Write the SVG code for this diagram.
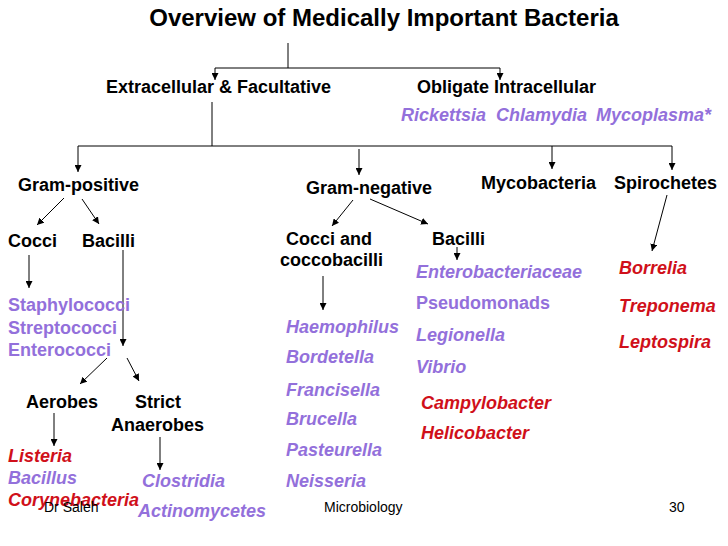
<svg xmlns="http://www.w3.org/2000/svg" width="728" height="546" viewBox="0 0 728 546">
<defs>
<marker id="ah" viewBox="0 0 8 8" refX="8" refY="4" markerWidth="7" markerHeight="7" markerUnits="userSpaceOnUse" orient="auto">
<path d="M0,0 L8,4 L0,8 Z" fill="#000"/>
</marker>
</defs>
<style>
text{font-family:"Liberation Sans",Arial,sans-serif;}
.t{font-size:24px;font-weight:bold;fill:#000;}
.h{font-size:18px;font-weight:bold;fill:#000;}
.p{font-size:18px;font-weight:bold;fill:#9370DB;}
.pi{font-size:18px;font-weight:bold;font-style:italic;fill:#9370DB;}
.ri{font-size:18px;font-weight:bold;font-style:italic;fill:#D0101A;}
.f{font-size:14px;fill:#000;}
.c line,.c path{stroke:#000;stroke-width:1;fill:none;}
.a{marker-end:url(#ah);}
</style>
<rect width="728" height="546" fill="#fff"/>
<g id="connectors" class="c">
<line x1="288" y1="43" x2="288" y2="68"/>
<line x1="215" y1="68" x2="500" y2="68"/>
<line class="a" x1="215" y1="68" x2="215" y2="80"/>
<line class="a" x1="500" y1="68" x2="500" y2="80"/>
<line x1="212" y1="102" x2="212" y2="146"/>
<line x1="78" y1="146" x2="672" y2="146"/>
<line class="a" x1="78" y1="146" x2="78" y2="172"/>
<line class="a" x1="359" y1="149" x2="359" y2="175"/>
<line class="a" x1="552" y1="146" x2="552" y2="169"/>
<line class="a" x1="672" y1="146" x2="672" y2="170"/>
<line class="a" x1="64" y1="198" x2="37" y2="225"/>
<line class="a" x1="82" y1="199" x2="99" y2="224"/>
<line class="a" x1="29" y1="255" x2="29" y2="288"/>
<line class="a" x1="123" y1="250" x2="123" y2="346"/>
<line class="a" x1="107" y1="358" x2="80" y2="384"/>
<line class="a" x1="127" y1="358" x2="139" y2="381"/>
<line class="a" x1="54" y1="413" x2="54" y2="446"/>
<line class="a" x1="160" y1="437" x2="160" y2="470"/>
<line class="a" x1="353" y1="200" x2="332" y2="226"/>
<line class="a" x1="370" y1="199" x2="428" y2="224"/>
<line class="a" x1="457" y1="247" x2="457" y2="260"/>
<line class="a" x1="323" y1="276" x2="323" y2="310"/>
<line class="a" x1="667" y1="195" x2="652" y2="251"/>
</g>
<g id="title"><text class="t" x="384" y="26" text-anchor="middle">Overview of Medically Important Bacteria</text></g>
<g id="extracellular"><text class="h" x="106" y="93">Extracellular &amp; Facultative</text></g>
<g id="obligate"><text class="h" x="417" y="93">Obligate Intracellular</text>
<text class="pi" x="401" y="121">Rickettsia</text>
<text class="pi" x="496" y="121">Chlamydia</text>
<text class="pi" x="596" y="121">Mycoplasma*</text></g>
<g id="gram-positive"><text class="h" x="18" y="191">Gram-positive</text></g>
<g id="gram-negative"><text class="h" x="306" y="194">Gram-negative</text></g>
<g id="mycobacteria"><text class="h" x="481" y="189">Mycobacteria</text></g>
<g id="spirochetes"><text class="h" x="614" y="189">Spirochetes</text></g>
<g id="gp-cocci"><text class="h" x="8" y="247">Cocci</text></g>
<g id="gp-bacilli"><text class="h" x="82" y="247">Bacilli</text></g>
<g id="gp-cocci-list">
<text class="p" x="8" y="311">Staphylococci</text>
<text class="p" x="8" y="334">Streptococci</text>
<text class="p" x="8" y="356">Enterococci</text></g>
<g id="aerobes"><text class="h" x="26" y="408">Aerobes</text></g>
<g id="anaerobes"><text class="h" x="135" y="408">Strict</text><text class="h" x="111" y="431">Anaerobes</text></g>
<g id="aerobes-list">
<text class="ri" x="8" y="462">Listeria</text>
<text class="pi" x="8" y="484">Bacillus</text>
<text class="ri" x="8" y="506">Corynebacteria</text></g>
<g id="anaerobes-list">
<text class="pi" x="142" y="487">Clostridia</text>
<text class="pi" x="138" y="517">Actinomycetes</text></g>
<g id="gn-cocci"><text class="h" x="286" y="245">Cocci and</text><text class="h" x="280" y="266">coccobacilli</text></g>
<g id="gn-bacilli"><text class="h" x="432" y="245">Bacilli</text></g>
<g id="gn-cocci-list">
<text class="pi" x="286" y="333">Haemophilus</text>
<text class="pi" x="286" y="363">Bordetella</text>
<text class="pi" x="286" y="396">Francisella</text>
<text class="pi" x="286" y="425">Brucella</text>
<text class="pi" x="286" y="456">Pasteurella</text>
<text class="pi" x="286" y="487">Neisseria</text></g>
<g id="gn-bacilli-list">
<text class="pi" x="416" y="278">Enterobacteriaceae</text>
<text class="p" x="416" y="309">Pseudomonads</text>
<text class="pi" x="416" y="341">Legionella</text>
<text class="pi" x="416" y="373">Vibrio</text>
<text class="ri" x="421" y="409">Campylobacter</text>
<text class="ri" x="421" y="439">Helicobacter</text></g>
<g id="spirochetes-list">
<text class="ri" x="619" y="274">Borrelia</text>
<text class="ri" x="619" y="312">Treponema</text>
<text class="ri" x="619" y="348">Leptospira</text></g>
<g id="footer">
<text class="f" x="44" y="512">Dr Saleh</text>
<text class="f" x="324" y="512">Microbiology</text>
<text class="f" x="669" y="512">30</text></g>
</svg>
